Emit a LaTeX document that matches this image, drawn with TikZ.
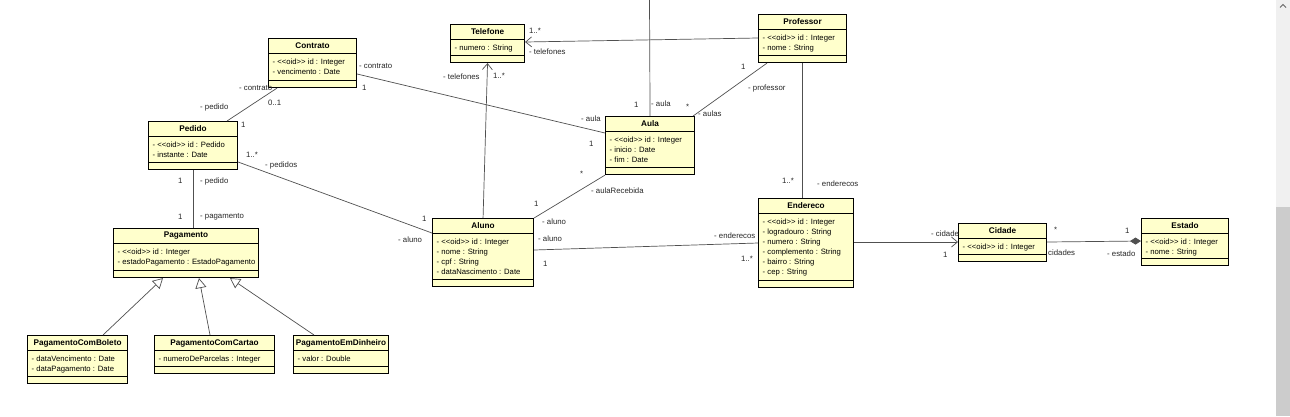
\documentclass[tikz,border=0pt]{standalone}
\usepackage{fontspec}
\setmainfont{Liberation Sans}
\usetikzlibrary{arrows.meta}
\definecolor{clsfill}{RGB}{255,255,204}
\definecolor{lnkc}{RGB}{80,80,80}
\definecolor{lblc}{RGB}{40,40,40}
\tikzset{
 cls/.style={draw=black, line width=1.1pt, fill=clsfill, inner sep=0pt, rectangle},
 ttl/.style={font=\fontsize{8.2}{9}\selectfont\bfseries, inner sep=0pt},
 atr/.style={font=\fontsize{7.7}{10}\selectfont, inner sep=0pt, align=left, anchor=north west},
 sepline/.style={draw=black, line width=0.8pt},
 lnk/.style={draw=lnkc, line width=0.7pt},
 lab/.style={font=\fontsize{7.8}{9}\selectfont, text=lblc, inner sep=0pt, anchor=west},
 nav/.style={-{Straight Barb[length=6pt,width=10pt]}},
 gen/.style={-{Triangle[open,length=10pt,width=11pt,fill=white]}},
 comp/.style={-{Diamond[length=11pt,width=7pt]}},
}
\newcommand{\oid}{<\kern0pt<oid>\kern0pt>}
\newcommand{\umlclass}[7]{%
 \node[cls, minimum width=#4pt, minimum height=#5pt, anchor=north west] (#1) at (#2,#3) {};
 \node[ttl] at ([yshift=-8pt]#1.north) {#6};
 \draw[sepline] ([yshift=-15.5pt]#1.north west) -- ([yshift=-15.5pt]#1.north east);
 \node[atr] at ([xshift=4.5pt,yshift=-21pt]#1.north west) {#7};
 \draw[sepline] ([yshift=8pt]#1.south west) -- ([yshift=8pt]#1.south east);
}
\begin{document}
\begin{tikzpicture}[x=1pt,y=-1pt]
\useasboundingbox (0,0) rectangle (1290,416);
\fill[white] (0,0) rectangle (1290,416);
% scrollbar
\fill[black!6] (1276,0) rectangle (1290,207);
\fill[black!20] (1276,207) rectangle (1290,416);
\draw[black!60, line width=0.8pt] (1280,7.5) -- (1283,4.5) -- (1286,7.5);

% classes
\umlclass{contrato}{268}{38}{88}{49}{Contrato}{- \oid\ id : Integer\\- vencimento : Date}
\umlclass{pedido}{148}{121}{89}{48}{Pedido}{- \oid\ id : Pedido\\- instante : Date}
\umlclass{pagamento}{113}{228}{145}{49}{Pagamento}{- \oid\ id : Integer\\- estadoPagamento : EstadoPagamento}
\umlclass{boleto}{27}{335}{100}{48}{PagamentoComBoleto}{- dataVencimento : Date\\- dataPagamento : Date}
\umlclass{cartao}{154}{335}{120}{38}{PagamentoComCartao}{- numeroDeParcelas : Integer}
\umlclass{dinheiro}{293}{335}{95}{38}{PagamentoEmDinheiro}{- valor : Double}
\umlclass{telefone}{450}{24}{74}{38}{Telefone}{- numero : String}
\umlclass{professor}{758}{14}{88}{48}{Professor}{- \oid\ id : Integer\\- nome : String}
\umlclass{aula}{605}{116}{89}{58}{Aula}{- \oid\ id : Integer\\- inicio : Date\\- fim : Date}
\umlclass{aluno}{432}{218}{101}{68}{Aluno}{- \oid\ id : Integer\\- nome : String\\- cpf : String\\- dataNascimento : Date}
\umlclass{endereco}{758}{198}{95}{89}{Endereco}{- \oid\ id : Integer\\- logradouro : String\\- numero : String\\- complemento : String\\- bairro : String\\- cep : String}
\umlclass{cidade}{958}{223}{88}{38}{Cidade}{- \oid\ id : Integer}
\umlclass{estado}{1141}{218}{87}{47}{Estado}{- \oid\ id : Integer\\- nome : String}

% connectors
\coordinate (topin) at (649.5,0);
\draw[lnk] ([xshift=79pt]pedido.north west) -- ([xshift=9pt]contrato.south west);
\draw[lnk] ([yshift=-36pt]contrato.north east) -- ([yshift=-17pt]aula.north west);
\draw[lnk] ([yshift=-41pt]pedido.north east) -- ([yshift=-15pt]aluno.north west);
\draw[lnk] (pedido.south) -- (pedido.south |- pagamento.north);
\draw[lnk,gen] ([xshift=76pt]boleto.north west) -- ([xshift=50pt]pagamento.south west);
\draw[lnk,gen] ([xshift=56pt]cartao.north west) -- ([xshift=86pt]pagamento.south west);
\draw[lnk,gen] ([xshift=21pt]dinheiro.north west) -- ([xshift=117pt]pagamento.south west);
\draw[lnk,nav] (aluno.north) -- (telefone.south);
\draw[lnk,nav] ([yshift=-24pt]professor.north west) -- ([yshift=-18pt]telefone.north east);
\draw[lnk] (topin) -- (aula.north);
\draw[lnk] ([xshift=9pt]professor.south west) -- ([xshift=-2pt]aula.north east);
\draw[lnk] (professor.south) -- (professor.south |- endereco.north);
\draw[lnk] (aula.south west) -- (aluno.north east);
\draw[lnk] ([yshift=-32pt]aluno.north east) -- ([yshift=-45pt]endereco.north west);
\draw[lnk,nav] ([yshift=-44pt]endereco.north east) -- ([yshift=-19pt]cidade.north west);
\draw[lnk,comp] ([yshift=-19pt]cidade.north east) -- ([yshift=-23pt]estado.north west);

% labels
\node[lab] (l1) at (239,88) {- contrato};
\node[lab] (l2) at (268,103) {0..1};
\node[lab] (l3) at (200,107) {- pedido};
\node[lab] (l4) at (241,125) {1};
\node[lab] (l5) at (359,66) {- contrato};
\node[lab] (l6) at (362,88) {1};
\node[lab] (l7) at (581,119) {- aula};
\node[lab] (l8) at (589,144) {1};
\node[lab] (l9) at (246,155) {1..*};
\node[lab] (l10) at (265,165) {- pedidos};
\node[lab] (l11) at (422,219) {1};
\node[lab] (l12) at (398,240) {- aluno};
\node[lab] (l13) at (178,181) {1};
\node[lab] (l14) at (200,181) {- pedido};
\node[lab] (l15) at (178,217) {1};
\node[lab] (l16) at (200,217) {- pagamento};
\node[lab] (l17) at (529,31) {1..*};
\node[lab] (l18) at (529,52) {- telefones};
\node[lab] (l19) at (443,77) {- telefones};
\node[lab] (l20) at (493,76) {1..*};
\node[lab] (l21) at (634,105) {1};
\node[lab] (l22) at (651,104) {- aula};
\node[lab] (l23) at (741,67) {1};
\node[lab] (l24) at (748,88) {- professor};
\node[lab] (l25) at (686,107) {*};
\node[lab] (l26) at (698,114) {- aulas};
\node[lab] (l27) at (782,181) {1..*};
\node[lab] (l28) at (817,184) {- enderecos};
\node[lab] (l29) at (580,174) {*};
\node[lab] (l30) at (591,191) {- aulaRecebida};
\node[lab] (l31) at (534,204) {1};
\node[lab] (l32) at (542,222) {- aluno};
\node[lab] (l33) at (538,239) {- aluno};
\node[lab] (l34) at (543,264) {1};
\node[lab] (l35) at (714,236) {- enderecos};
\node[lab] (l36) at (741,259) {1..*};
\node[lab] (l37) at (931,234) {- cidade};
\node[lab] (l38) at (943,255) {1};
\node[lab] (l39) at (1054,230) {*};
\node[lab] (l40) at (1048,253) {cidades};
\node[lab] (l41) at (1125,231) {1};
\node[lab] (l42) at (1107,254) {- estado};
\end{tikzpicture}
\end{document}
